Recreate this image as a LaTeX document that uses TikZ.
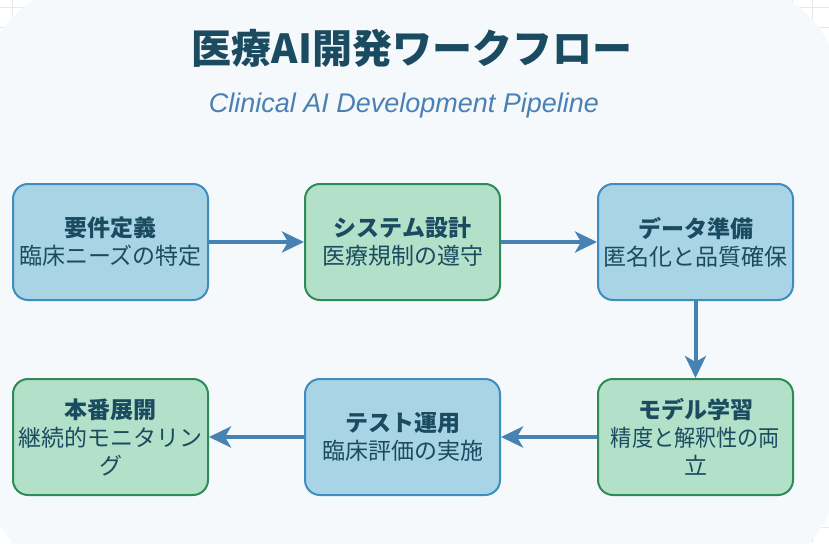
\documentclass[tikz,border=0pt]{standalone}
\usepackage{fontspec}
\usepackage{graphicx}
\usepackage{xcolor}
\usepackage{tikz}
\usetikzlibrary{arrows.meta}
\setmainfont{Noto Sans CJK JP}
\newfontfamily\latinsans{Liberation Sans}
\definecolor{panel}{HTML}{F5F9FB}
\definecolor{gridline}{HTML}{E8E8E8}
\definecolor{inkdark}{HTML}{1B4B60}
\definecolor{subblue}{HTML}{4A80B4}
\definecolor{bluefill}{HTML}{A8D4E6}
\definecolor{blueedge}{HTML}{3F8DBF}
\definecolor{greenfill}{HTML}{B3E0C9}
\definecolor{greenedge}{HTML}{2E8B57}
\definecolor{flow}{HTML}{4682B4}
\tikzset{
  stagebox/.style={rounded corners=15pt, line width=2pt, minimum width=195pt, minimum height=116pt,
    inner sep=0pt, align=center, text=inkdark, font=\fontsize{23}{28}\selectfont},
  bluestage/.style={stagebox, draw=blueedge, fill=bluefill},
  greenstage/.style={stagebox, draw=greenedge, fill=greenfill},
  flowarrow/.style={draw=flow, line width=4pt, -{Stealth[length=22pt,width=21pt,inset=6pt]}}
}
\newcommand{\stage}[6]{
    \node[#1stage] (#2) at (#3,#4) {\textbf{#5}\\#6};
}
\newcommand{\BACKpanel}{
\begin{scope}
\foreach \gx in {12,32,...,812} \draw[gridline] (\gx,0) -- (\gx,543);
\foreach \gy in {7,27,...,527} \draw[gridline] (0,\gy) -- (829,\gy);
    \fill[panel, rounded corners=102pt] (-15,-15) rectangle (838,574);
\end{scope}
}

\begin{document}
\begin{tikzpicture}[x=1pt,y=-1pt]
    \clip (0,0) rectangle (829,543);
    \useasboundingbox (0,0) rectangle (829,543);
    \BACKpanel
    \node[text=inkdark, font=\fontsize{40}{40}\selectfont\bfseries] (title) at (412,48) {医療AI開発ワークフロー};
    \node[text=subblue, font=\latinsans\itshape\fontsize{27}{27}\selectfont] (subtitle) at (404,106) {Clinical AI Development Pipeline};

   \stage{blue}{req}{110.5}{242}{要件定義}{臨床ニーズの特定}
   \stage{green}{design}{402.5}{242}{システム設計}{医療規制の遵守}
   \stage{blue}{data}{695.5}{242}{データ準備}{匿名化と品質確保}

    \stage{green}{train}{695.5}{437}{モデル学習}{\scalebox{0.92}[1]{精度と解釈性の両}\\立}
    \stage{blue}{test}{402.5}{437}{テスト運用}{臨床評価の実施}
    \stage{green}{deploy}{110.5}{437}{本番展開}{継続的モニタリン\\グ}

    \draw[flowarrow] (req) -- (design);
    \draw[flowarrow] (design) -- (data);
    \draw[flowarrow] (data) -- (train);
    \draw[flowarrow] (train) -- (test);
    \draw[flowarrow] (test) -- (deploy);
\end{tikzpicture}
\end{document}
